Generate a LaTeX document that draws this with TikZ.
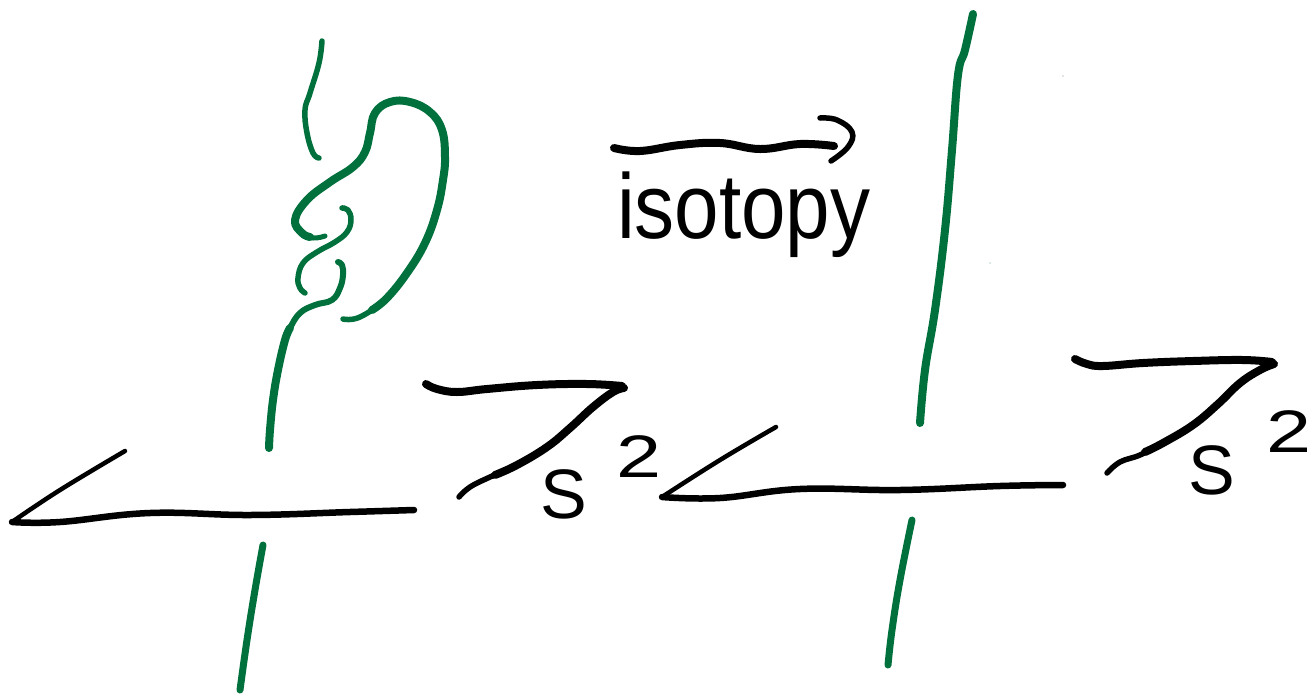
\documentclass[tikz,border=0pt]{standalone}
\usepackage{fontspec}
\setmainfont{Liberation Sans}
\definecolor{inkgreen}{HTML}{00703C}
\tikzset{
  ink/.style={line cap=round,line join=round,draw=black},
  gstroke/.style={line cap=round,line join=round,draw=inkgreen},
  sm/.style={smooth,tension=0.7},
  hand/.style={inner sep=0pt,outer sep=0pt,text=black}
}
\begin{document}
\begin{tikzpicture}[x=1pt,y=-1pt]
\useasboundingbox (0,0) rectangle (1312,694);
% left green strand
\draw[gstroke,line width=5.5pt] plot[sm] coordinates {(322,41)(319,63)(310,93)(305,110)(307,133)(313,153)(319,158)};
\draw[gstroke,line width=5.5pt] plot[sm] coordinates {(343,319)(360,317)(387,298)(407,273)};
\draw[gstroke,line width=8pt] plot[sm] coordinates {(372,310)(387,298)(407,273)(425,243)(437,210)(443,180)(445,157)(442,130)(430,112)(410,102)(390,102)(375,113)(370,133)(365,152)(353,167)(330,182)(307,200)(295,220)(302,233)(310,237)};
\draw[gstroke,line width=5pt] plot[sm] coordinates {(302,233)(313,238)(325,236)};
\draw[gstroke,line width=5.5pt] plot[sm] coordinates {(342,208)(348,210)(351,220)(347,232)(335,242)(317,252)(303,263)(298,278)(300,288)(305,293)};
\draw[gstroke,line width=6pt] plot[sm] coordinates {(338,262)(342,265)(343,275)(340,288)(332,300)(315,305)(300,313)(290,328)(285,340)};
\draw[gstroke,line width=8pt] plot[sm] coordinates {(290,328)(285,340)(278,370)(273,400)(270,430)(269,448)};
\draw[gstroke,line width=7pt] plot[sm] coordinates {(263,545)(255,590)(247,640)(240,690)};
% right green strand
\draw[gstroke,line width=8pt] plot[sm] coordinates {(973,14)(965,50)(958,75)(952,150)(945,230)(935,310)(925,370)(920,423)};
\draw[gstroke,line width=7pt] plot[sm] coordinates {(912,520)(900,580)(892,630)(888,665)};
% left sphere
\draw[ink,line width=4.5pt] plot[sm] coordinates {(125,451)(60,490)(12,522)};
\draw[ink,line width=6.5pt] plot[sm] coordinates {(12,522)(60,522)(150,513)(250,515)(350,512)(414,510)};
\draw[ink,line width=8pt] plot[sm] coordinates {(426,384)(437,389)(457,392)(487,389)(537,385)(587,384)(622,386)};
\draw[ink,line width=8pt] plot[sm] coordinates {(624,388)(613,392)(593,407)(570,428)(547,447)(517,465)(495,475)};
\draw[ink,line width=5.5pt] plot[sm] coordinates {(517,465)(490,477)(470,487)(459,497)};
% right sphere
\draw[ink,line width=4.5pt] plot[sm] coordinates {(776,427)(720,460)(662,497)};
\draw[ink,line width=6.5pt] plot[sm] coordinates {(662,497)(720,498)(800,489)(900,490)(1000,486)(1063,485)};
\draw[ink,line width=8pt] plot[sm] coordinates {(1075,359)(1087,364)(1103,366)(1143,363)(1193,361)(1243,360)(1272,362)};
\draw[ink,line width=8pt] plot[sm] coordinates {(1274,364)(1260,370)(1240,383)(1218,404)(1193,425)(1163,443)(1145,452)};
\draw[ink,line width=5.5pt] plot[sm] coordinates {(1163,443)(1140,455)(1120,462)(1107,473)};
% arrow
\draw[ink,line width=8pt] plot[sm] coordinates {(614,148)(640,151)(680,145)(720,143)(760,149)(800,144)(834,146)};
\draw[ink,line width=5.5pt] plot[sm] coordinates {(820,118)(837,120)(852,132)(848,147)(831,161)};
% labels
\node[hand,anchor=base west] (isotopy) at (617,238) {\scalebox{1}[1.15]{\fontsize{80}{80}\selectfont isotopy}};
\node[hand,anchor=base west] (sone) at (540,518) {\fontsize{70}{70}\selectfont S};
\node[hand,anchor=base west] (twoone) at (616,477) {\scalebox{1.35}[1]{\fontsize{60}{60}\selectfont 2}};
\node[hand,anchor=base west] (stwo) at (1188,494) {\fontsize{70}{70}\selectfont S};
\node[hand,anchor=base west] (twotwo) at (1266,452) {\scalebox{1.35}[1]{\fontsize{60}{60}\selectfont 2}};
% specks
\fill[black!45] (1063,76) circle (0.7pt);
\fill[inkgreen!60] (990,263) circle (0.7pt);
\end{tikzpicture}
\end{document}
